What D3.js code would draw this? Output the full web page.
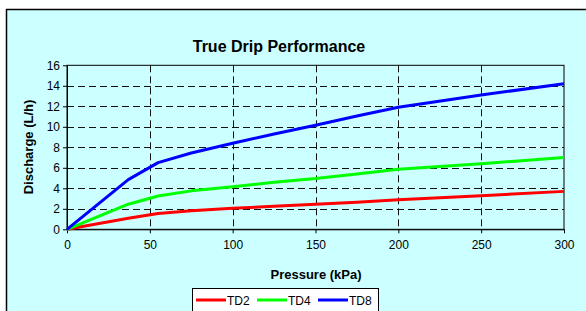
<!DOCTYPE html>
<html><head><meta charset="utf-8">
<script src="https://cdn.jsdelivr.net/npm/d3@7"></script>
<style>
html,body{margin:0;padding:0;background:#fff;overflow:hidden;}
text{font-family:"Liberation Sans",Arial,sans-serif;}
</style></head>
<body>
<svg id="chart" width="586" height="311"></svg>
<script>
const pressure = [0, 37, 55, 75, 100, 125, 150, 175, 200, 250, 300];
const td2 = [0, 1.07, 1.55, 1.8, 2.05, 2.25, 2.45, 2.65, 2.88, 3.28, 3.7];
const td4 = [0, 2.45, 3.25, 3.75, 4.15, 4.6, 4.95, 5.4, 5.85, 6.4, 7.0];
const td8 = [0, 4.85, 6.5, 7.45, 8.4, 9.3, 10.15, 11.05, 11.9, 13.1, 14.2];
const seriesNames = ["TD2", "TD4", "TD8"];
const seriesColors = ["#ff0000", "#00ff00", "#0000ff"];
const xTicks = [0, 50, 100, 150, 200, 250, 300];
const yTicks = [0, 2, 4, 6, 8, 10, 12, 14, 16];
const title = "True Drip Performance";
const xTitle = "Pressure (kPa)";
const yTitle = "Discharge (L/h)";

const svg = d3.select("#chart");
svg.append("rect").attr("x", 6).attr("y", 9.5).attr("width", 586).attr("height", 311).attr("fill", "#ccffff");
svg.append("line").attr("x1", 6).attr("x2", 586).attr("y1", 9.5).attr("y2", 9.5).attr("stroke", "#000").attr("stroke-width", 1.5);
svg.append("line").attr("x1", 6.5).attr("x2", 6.5).attr("y1", 9).attr("y2", 311).attr("stroke", "#000").attr("stroke-width", 1.5);

const L = 67, R = 564, T = 65.3, B = 229.3;
const x = d3.scaleLinear().domain([0, 300]).range([L, R]);
const y = d3.scaleLinear().domain([0, 16]).range([B, T]);

const g = svg.append("g");
g.selectAll(".hg").data(yTicks.filter(d => d > 0 && d < 16)).join("line")
  .attr("x1", L).attr("x2", R).attr("y1", d => Math.round(y(d)) + 0.5).attr("y2", d => Math.round(y(d)) + 0.5)
  .attr("stroke", "#111").attr("stroke-width", 1).attr("stroke-dasharray", "7,4");
g.selectAll(".vg").data(xTicks.filter(d => d > 0 && d < 300)).join("line")
  .attr("y1", T).attr("y2", B).attr("x1", d => Math.round(x(d)) + 0.5).attr("x2", d => Math.round(x(d)) + 0.5)
  .attr("stroke", "#111").attr("stroke-width", 1).attr("stroke-dasharray", "7,4");
svg.append("rect").attr("x", L).attr("y", T).attr("width", R - L).attr("height", B - T)
  .attr("fill", "none").attr("stroke", "#000").attr("stroke-width", 1);

const xAxis = svg.append("g").attr("transform", `translate(0,${B})`)
  .call(d3.axisBottom(x).tickValues(xTicks).tickSize(4).tickSizeOuter(0));
const yAxis = svg.append("g").attr("transform", `translate(${L},0)`)
  .call(d3.axisLeft(y).tickValues(yTicks).tickSize(4).tickSizeOuter(0));
[xAxis, yAxis].forEach(a => {
  a.select(".domain").attr("stroke", "#000");
  a.selectAll("line").attr("stroke", "#000");
  a.selectAll("text").attr("font-size", 12).attr("fill", "#000").attr("font-family", "Liberation Sans, Arial, sans-serif");
});
xAxis.selectAll("text").attr("y", 4).attr("dy", "1.35em");
yAxis.selectAll("text").attr("x", -7).attr("dy", "0.34em");

const series = [td2, td4, td8];
const line = d3.line().x((d, i) => x(pressure[i])).y(d => y(d));
series.forEach((s, k) => {
  svg.append("path").datum(s).attr("d", line).attr("fill", "none")
    .attr("stroke", seriesColors[k]).attr("stroke-width", 3).attr("stroke-linejoin", "round");
});

svg.append("text").attr("x", 279).attr("y", 52).attr("text-anchor", "middle")
  .attr("font-size", 16).attr("font-weight", "bold").text(title);
svg.append("text").attr("x", 316).attr("y", 279).attr("text-anchor", "middle")
  .attr("font-size", 13).attr("font-weight", "bold").text(xTitle);
svg.append("text").attr("transform", `translate(33,147) rotate(-90)`).attr("text-anchor", "middle")
  .attr("font-size", 13).attr("font-weight", "bold").text(yTitle);

const lg = svg.append("g");
lg.append("rect").attr("x", 192.5).attr("y", 288.5).attr("width", 186).attr("height", 30)
  .attr("fill", "#fff").attr("stroke", "#000").attr("stroke-width", 1);
const lx = [196, 257, 318];
seriesNames.forEach((n, k) => {
  lg.append("line").attr("x1", lx[k]).attr("x2", lx[k] + 30).attr("y1", 300).attr("y2", 300)
    .attr("stroke", seriesColors[k]).attr("stroke-width", 3);
  lg.append("text").attr("x", lx[k] + 31).attr("y", 304.5).attr("font-size", 12).text(n);
});
</script>
</body></html>
